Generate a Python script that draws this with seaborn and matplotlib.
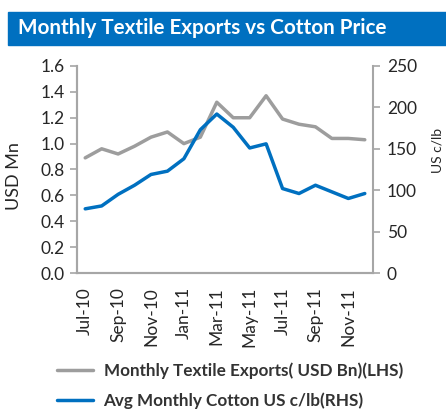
import matplotlib
matplotlib.use("Agg")
import matplotlib.pyplot as plt
import seaborn as sns
import pandas as pd
from matplotlib.patches import Rectangle

months = ["Jul-10", "Aug-10", "Sep-10", "Oct-10", "Nov-10", "Dec-10",
          "Jan-11", "Feb-11", "Mar-11", "Apr-11", "May-11", "Jun-11",
          "Jul-11", "Aug-11", "Sep-11", "Oct-11", "Nov-11", "Dec-11"]
textile_exports = [0.89, 0.96, 0.92, 0.98, 1.05, 1.09, 1.00, 1.05, 1.32,
                   1.20, 1.20, 1.37, 1.19, 1.15, 1.13, 1.04, 1.04, 1.03]
cotton_price = [77.5, 81, 95, 106, 119, 123, 138, 173, 192, 176, 151, 156,
                102, 96, 106, 98, 90, 96]

legend_exports = "Monthly Textile Exports( USD Bn)(LHS)"
legend_cotton = "Avg Monthly Cotton US c/lb(RHS)"
title = "Monthly Textile Exports vs Cotton Price"

GRAY = "#9d9d9d"
BLUE = "#0070c0"
AXIS = "#a6a6a6"
TEXT = "#262626"

df = pd.DataFrame({"idx": range(len(months)), "month": months,
                   "exports": textile_exports, "cotton": cotton_price})

sns.set_style("white")
plt.rcParams["font.family"] = ["Lato", "DejaVu Sans"]

W, H = 446, 411
fig = plt.figure(figsize=(W / 100, H / 100), dpi=100)
ax = fig.add_axes([77 / W, 1 - 273 / H, 296 / W, 207 / H])
ax2 = ax.twinx()

sns.lineplot(data=df, x="idx", y="exports", ax=ax, color=GRAY, lw=2.5,
             label=legend_exports, legend=False)
sns.lineplot(data=df, x="idx", y="cotton", ax=ax2, color=BLUE, lw=2.5,
             label=legend_cotton, legend=False)

ax.set_xlim(-0.5, len(months) - 0.5)
ax.set_ylim(0, 1.6)
ax2.set_ylim(0, 250)
ax.set_yticks([0.0, 0.2, 0.4, 0.6, 0.8, 1.0, 1.2, 1.4, 1.6])
ax.set_yticklabels([f"{v:.1f}" for v in ax.get_yticks()])
ax2.set_yticks([0, 50, 100, 150, 200, 250])

# month labels every other category, tick marks on category boundaries
ax.set_xticks([i for i in range(0, len(months), 2)])
ax.set_xticklabels(months[::2], rotation=90)
ax.set_xticks([i - 0.5 for i in range(len(months) + 1)], minor=True)
ax.tick_params(axis="x", which="major", length=0, pad=10, labelsize=12.5,
               labelcolor=TEXT)
ax.tick_params(axis="x", which="minor", length=5, width=1.2, color=AXIS,
               direction="out")
ax.tick_params(axis="y", length=5, width=1.2, color=AXIS, labelsize=12.5,
               labelcolor=TEXT, pad=4)
ax2.tick_params(axis="y", length=5, width=1.2, color=AXIS, labelsize=12.5,
                labelcolor=TEXT, pad=5)

for a in (ax, ax2):
    a.set_xlabel("")
    a.set_ylabel("")
    a.spines["top"].set_visible(False)
    for s in ("left", "right", "bottom"):
        a.spines[s].set_color(AXIS)
        a.spines[s].set_linewidth(1.5)
ax.spines["right"].set_visible(False)

ax.set_ylabel("USD Mn", fontsize=13, color=TEXT)
ax.yaxis.set_label_coords(-0.185, 0.47)
fig.text(431 / W, 1 - 150 / H, "US c/lb", rotation=90, ha="left",
         va="center", fontsize=10, color=TEXT)

# title banner
fig.patches.append(Rectangle((8 / W, 1 - 45 / H), 1, 33 / H,
                             transform=fig.transFigure, color=BLUE,
                             zorder=0))
fig.text(18 / W, 1 - 28.5 / H, title, color="white", fontsize=14.9,
         fontweight="bold", ha="left", va="center")

h1, l1 = ax.get_legend_handles_labels()
h2, l2 = ax2.get_legend_handles_labels()
leg = fig.legend(h1 + h2, l1 + l2, loc="upper left",
                 bbox_to_anchor=(42 / W, 1 - 347 / H), frameon=False,
                 prop={"weight": "bold", "size": 12.3}, handlelength=2.1,
                 handletextpad=0.6, labelspacing=0.8)
for t in leg.get_texts():
    t.set_color("#333333")

fig.savefig("out.png", dpi=100)
